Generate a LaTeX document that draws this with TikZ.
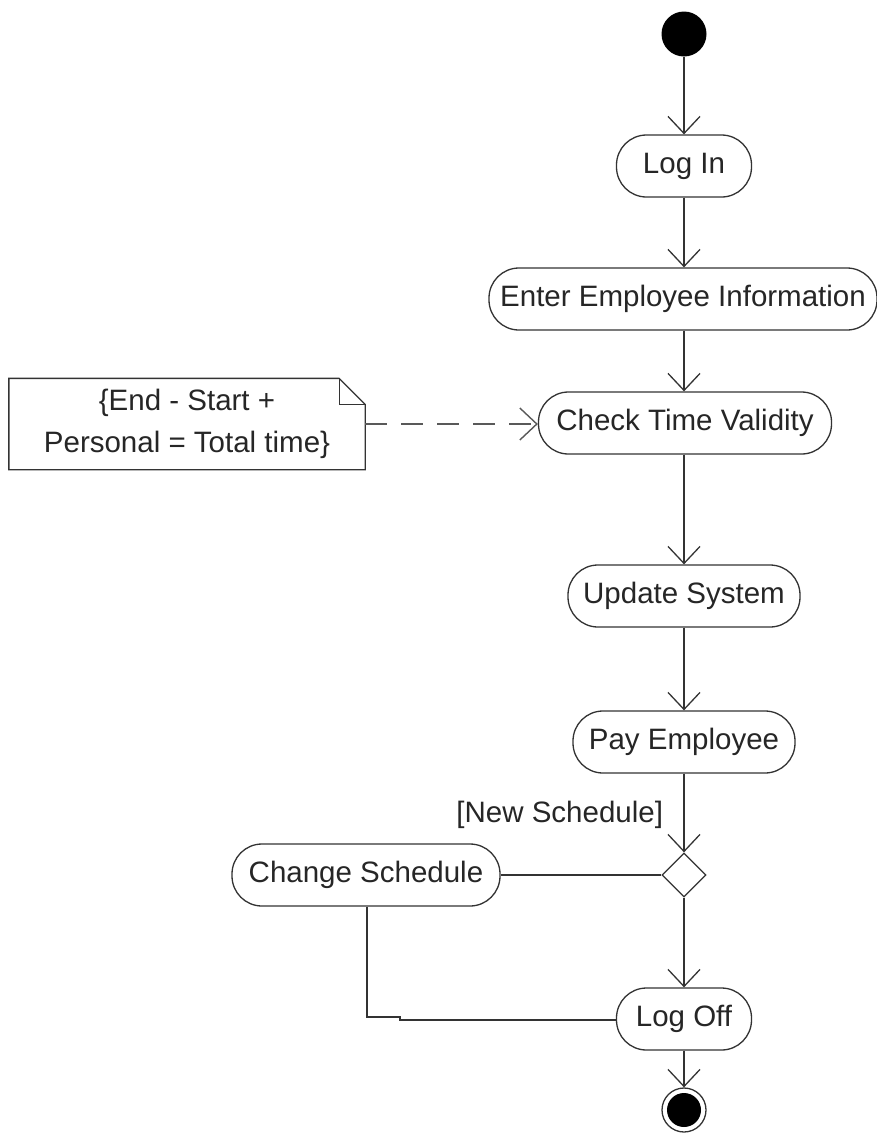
\documentclass[tikz,border=0pt]{standalone}
\usepackage{fontspec}
\setmainfont{Liberation Sans}
\usetikzlibrary{arrows.meta,shapes.geometric}
\begin{document}
\begin{tikzpicture}[x=1pt,y=-1pt,
  line width=1.3pt, draw=black!80,
  act/.style={draw=black!80, rounded corners=30pt, minimum height=62pt, inner sep=0pt,
    font=\fontsize{29.5}{34}\selectfont, text=black!85},
  flow/.style={draw=black!80, -{Straight Barb[length=17pt,width=32pt,line width=1.3pt]}},
  plain/.style={draw=black!80},
  notebox/.style={minimum width=355pt, minimum height=90pt, inner sep=0pt, align=center,
    font=\fontsize{29.5}{42}\selectfont, text=black!85},
  dep/.style={draw=black!65, line width=1.6pt, dash pattern=on 22pt off 14pt,
    -{Straight Barb[length=17pt,width=32pt,line width=1.4pt]}}
]
\useasboundingbox (0,0) rectangle (877,1133);
\fill[white] (0,0) rectangle (877,1133);

\node[circle, fill=black, minimum size=45pt, inner sep=0pt] (start) at (684,34) {};
\node[act, minimum width=135pt] (login) at (684,166) {Log In};
\node[act, minimum width=388pt] (enter) at (683,299) {Enter Employee Information};
\node[act, minimum width=293pt] (check) at (685,423) {Check Time Validity};
\node[act, minimum width=232pt] (update) at (684,596) {Update System};
\node[act, minimum width=222pt] (pay) at (684,742) {Pay Employee};
\node[diamond, draw=black!80, minimum width=44pt, minimum height=44pt, inner sep=0pt] (dec) at (684,875) {};
\node[act, minimum width=268pt] (change) at (366,875) {Change Schedule};
\node[act, minimum width=135pt] (logoff) at (684,1019) {Log Off};
\node[circle, draw=black!80, minimum size=44pt, inner sep=0pt] (end) at (684,1110) {};
\fill[black] (end.center) circle (17pt);

\node[anchor=east, font=\fontsize{29.5}{34}\selectfont, text=black!85] (guard) at (667,815) {[New Schedule]};

\node[notebox] (note) at (187,424) {\{End - Start +\\Personal = Total time\}};
\draw[plain] (note.north west) -- ([xshift=-26pt]note.north east) -- ([yshift=-26pt]note.north east)
  -- (note.south east) -- (note.south west) -- cycle;
\draw[plain] ([xshift=-26pt]note.north east) |- ([yshift=-26pt]note.north east);

\draw[flow] (start) -- (login);
\draw[flow] (login) -- (login |- enter.north);
\draw[flow] (enter.south -| login) -- (login |- check.north);
\draw[flow] (check.south -| login) -- (update);
\draw[flow] (update) -- (pay);
\draw[flow] (pay) -- (dec);
\draw[flow] (dec) -- (logoff);
\draw[flow] (logoff) -- (end);
\draw[plain] (dec.west) -- (change.east);
\coordinate (j1) at (367,1017);
\coordinate (j2) at (400,1017);
\coordinate (j3) at (400,1020);
\draw[plain] (change.south -| j1) -- (j1) -- (j2) -- (j3) -- (logoff.west |- j3);
\draw[dep] (note.east) -- (note.east -| check.west);
\end{tikzpicture}
\end{document}
